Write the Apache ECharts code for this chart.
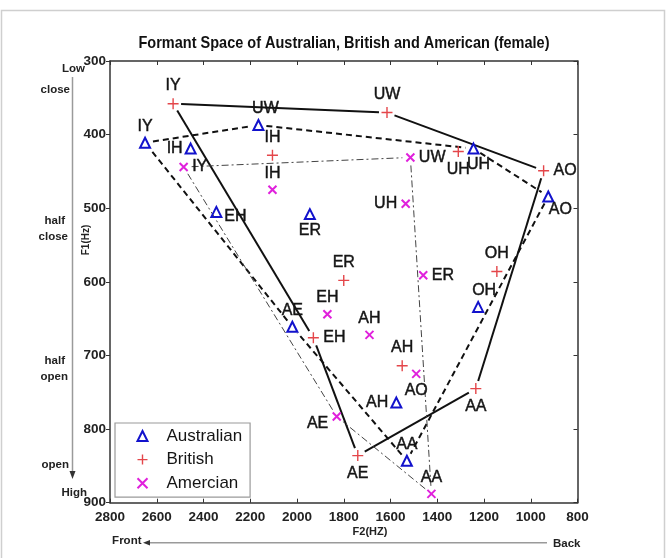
<!DOCTYPE html>
<html>
<head>
<meta charset="utf-8">
<script src="https://cdn.jsdelivr.net/npm/echarts@6/dist/echarts.min.js"></script>
<style>
  html, body { margin: 0; padding: 0; background: #fff; }
  #chart { width: 668px; height: 558px; }
</style>
</head>
<body>
<div id="chart"></div>
<script>
// Female vowel formants (Hz): F2 on the horizontal axis, F1 on the vertical axis
const ausVowels = ['IY', 'IH', 'EH', 'AE', 'ER', 'UW', 'UH', 'AO', 'OH', 'AH', 'AA'];
const ausF2 = [2650, 2455, 2345, 2020, 1945, 2165, 1245, 925, 1225, 1575, 1530];
const ausF1 = [411, 419, 505, 661, 508, 387, 419, 484, 634, 764, 843];

const briVowels = ['IY', 'IH', 'EH', 'AE', 'ER', 'UW', 'UH', 'AO', 'OH', 'AH', 'AA'];
const briF2 = [2530, 2105, 1930, 1740, 1800, 1615, 1310, 945, 1145, 1550, 1235];
const briF1 = [358, 428, 676, 836, 598, 370, 423, 449, 586, 714, 745];

const amVowels = ['IY', 'IH', 'EH', 'AE', 'ER', 'UW', 'UH', 'AO', 'AH', 'AA'];
const amF2 = [2485, 2105, 1870, 1830, 1460, 1515, 1535, 1490, 1690, 1425];
const amF1 = [444, 475, 644, 783, 591, 431, 494, 725, 672, 888];

// Vowel outlines, walked in order
const ausOutline = ['IY', 'UW', 'UH', 'AO', 'AA', 'AE', 'IY'];
const briOutline = ['IY', 'UW', 'AO', 'AA', 'AE', 'EH', 'IY'];
const amOutline = ['IY', 'UW', 'AA', 'AE', 'IY'];

// Axis ticks
const f2Ticks = [2800, 2600, 2400, 2200, 2000, 1800, 1600, 1400, 1200, 1000, 800];
const f1Ticks = [300, 400, 500, 600, 700, 800, 900];

// Where each vowel name sits around its marker
const ausLabelAt = { IY: 'top', IH: 'left', EH: 'right', AE: 'top', ER: 'bottom', UW: 'top', UH: 'bottom', AO: 'bottom', OH: 'top', AH: 'left', AA: 'top' };
const ausLabelShift = { UW: [7, 0], UH: [5, 0], AO: [12, -3], OH: [6, 0], EH: [0, 5] };
const briLabelAt = { IY: 'top', IH: 'top', EH: 'right', AE: 'bottom', ER: 'top', UW: 'top', UH: 'bottom', AO: 'right', OH: 'top', AH: 'top', AA: 'bottom' };
const briLabelShift = {};
const amLabelAt = { IY: 'right', IH: 'top', EH: 'top', AE: 'left', ER: 'right', UW: 'right', UH: 'left', AO: 'bottom', AH: 'top', AA: 'top' };
const amLabelShift = { AE: [0, 7] };

const SANS = '"Liberation Sans", Arial, Helvetica, sans-serif';

const BLUE = '#1212cc';
const RED = '#e4464a';
const MAGENTA = '#e020dc';

const TRI = 'triangle';
const PLUS = 'path://M0,5L10,5M5,0L5,10';
const CROSS = 'path://M0,0L10,10M10,0L0,10';

// Outline segments stop short of the markers they join
const SEGMENT_GAP = 8;

function points(names, f2, f1, at, shift) {
  return names.map((n, i) => ({
    name: n,
    value: [f2[i], f1[i]],
    label: { position: at[n] || 'top', offset: shift[n] || [0, 0] }
  }));
}

function outline(names, f2, f1, order) {
  return order.map(v => {
    const i = names.indexOf(v);
    return [f2[i], f1[i]];
  });
}

const vowelLabel = {
  show: true,
  formatter: p => p.name,
  fontFamily: SANS,
  fontSize: 16,
  color: '#151515',
  textBorderColor: '#151515',
  textBorderWidth: 0.45,
  distance: 2
};

const chart = echarts.init(document.getElementById('chart'), null, { renderer: 'canvas' });

const boxLine = { show: true, onZero: false, lineStyle: { color: '#333', width: 1.5 } };
const tickFont = { fontFamily: SANS, fontWeight: 'bold', fontSize: 13.5, color: '#222' };
const sideFont = 'bold 11.5px ' + SANS;

// Title is drawn slightly condensed
const TITLE = 'Formant Space of Australian, British and American (female)';
const TITLE_FONT = 'bold 16.5px ' + SANS;
const titleCtx = document.createElement('canvas').getContext('2d');
titleCtx.font = TITLE_FONT;
const titleScale = Math.min(1, 411 / titleCtx.measureText(TITLE).width);

chart.setOption({
  animation: false,
  backgroundColor: '#fff',
  grid: { left: 110, right: 90.5, top: 61, bottom: 55.3, containLabel: false },
  xAxis: [
    {
      type: 'value', inverse: true, min: f2Ticks[f2Ticks.length - 1], max: f2Ticks[0], interval: 200,
      axisLine: boxLine,
      axisTick: { show: true, inside: true, length: 4, lineStyle: { color: '#333', width: 1 } },
      axisLabel: Object.assign({ margin: 8, formatter: v => String(v) }, tickFont),
      splitLine: { show: false }
    },
    {
      type: 'value', position: 'top', inverse: true, min: f2Ticks[f2Ticks.length - 1], max: f2Ticks[0], interval: 200,
      axisLine: boxLine,
      axisTick: { show: true, inside: true, length: 4, lineStyle: { color: '#333', width: 1 } },
      axisLabel: { show: false },
      splitLine: { show: false }
    }
  ],
  yAxis: [
    {
      type: 'value', inverse: true, min: f1Ticks[0], max: f1Ticks[f1Ticks.length - 1], interval: 100,
      axisLine: boxLine,
      axisTick: { show: true, inside: false, length: 4, lineStyle: { color: '#333', width: 1 } },
      axisLabel: Object.assign({ margin: 4, formatter: v => String(v) }, tickFont),
      splitLine: { show: false }
    },
    {
      type: 'value', position: 'right', inverse: true, min: f1Ticks[0], max: f1Ticks[f1Ticks.length - 1], interval: 100,
      axisLine: boxLine,
      axisTick: { show: true, inside: true, length: 4, lineStyle: { color: '#333', width: 1 } },
      axisLabel: { show: false },
      splitLine: { show: false }
    }
  ],
  legend: {
    orient: 'vertical',
    left: 115,
    top: 423,
    padding: [3, 8, 4, 20],
    itemWidth: 10,
    itemHeight: 10,
    itemGap: 3.6,
    backgroundColor: '#fff',
    borderColor: '#9a9a9a',
    borderWidth: 1.2,
    textStyle: { fontFamily: SANS, fontSize: 17, lineHeight: 20, color: '#151515', padding: [0, 0, 0, 14] },
    data: [
      { name: 'Australian', icon: TRI, itemStyle: { color: 'rgba(0,0,0,0)', borderColor: BLUE, borderWidth: 2 } },
      { name: 'British', icon: PLUS, itemStyle: { color: 'none', borderColor: RED, borderWidth: 1.4 } },
      { name: 'Amercian', icon: CROSS, itemStyle: { color: 'none', borderColor: MAGENTA, borderWidth: 2 } }
    ]
  },
  series: [
    {
      id: 'ausOutline', name: 'Australian outline', type: 'lines', coordinateSystem: 'cartesian2d',
      xAxisIndex: 0, yAxisIndex: 0, silent: true, z: 2, data: [],
      lineStyle: { color: '#111', width: 2, type: [6, 4], opacity: 1 }
    },
    {
      id: 'briOutline', name: 'British outline', type: 'lines', coordinateSystem: 'cartesian2d',
      xAxisIndex: 0, yAxisIndex: 0, silent: true, z: 2, data: [],
      lineStyle: { color: '#111', width: 2, type: 'solid', opacity: 1 }
    },
    {
      id: 'amOutline', name: 'American outline', type: 'lines', coordinateSystem: 'cartesian2d',
      xAxisIndex: 0, yAxisIndex: 0, silent: true, z: 2, data: [],
      lineStyle: { color: '#444', width: 1, type: [7, 3, 2, 3], opacity: 1 }
    },
    {
      name: 'Australian', type: 'scatter', z: 3,
      symbol: TRI, symbolSize: 10,
      itemStyle: { color: 'rgba(0,0,0,0)', borderColor: BLUE, borderWidth: 2, opacity: 1 },
      label: vowelLabel,
      data: points(ausVowels, ausF2, ausF1, ausLabelAt, ausLabelShift)
    },
    {
      name: 'British', type: 'scatter', z: 3,
      symbol: PLUS, symbolSize: 11,
      itemStyle: { color: 'none', borderColor: RED, borderWidth: 1.4, opacity: 1 },
      label: vowelLabel,
      data: points(briVowels, briF2, briF1, briLabelAt, briLabelShift)
    },
    {
      name: 'Amercian', type: 'scatter', z: 3,
      symbol: CROSS, symbolSize: 8,
      itemStyle: { color: 'none', borderColor: MAGENTA, borderWidth: 2, opacity: 1 },
      label: vowelLabel,
      data: points(amVowels, amF2, amF1, amLabelAt, amLabelShift)
    }
  ],
  graphic: [
    // outer frame
    { type: 'rect', silent: true, shape: { x: 1.5, y: 10.5, width: 663, height: 560 },
      style: { fill: 'none', stroke: '#cfcfcf', lineWidth: 1.5 } },
    // title
    { type: 'text', silent: true, x: 344, y: 43, scaleX: titleScale,
      style: { x: 0, y: 0, text: TITLE, align: 'center', verticalAlign: 'middle', font: TITLE_FONT, fill: '#111' } },
    // vowel height guide on the left
    { type: 'line', silent: true, shape: { x1: 72.5, y1: 77, x2: 72.5, y2: 472 },
      style: { stroke: '#9a9a9a', lineWidth: 1.5 } },
    { type: 'polygon', silent: true, shape: { points: [[69.5, 471], [75.5, 471], [72.5, 479]] },
      style: { fill: '#333' } },
    { type: 'text', silent: true, style: { x: 85, y: 69, text: 'Low', align: 'right', verticalAlign: 'middle', font: sideFont, fill: '#222' } },
    { type: 'text', silent: true, style: { x: 70, y: 90, text: 'close', align: 'right', verticalAlign: 'middle', font: sideFont, fill: '#222' } },
    { type: 'text', silent: true, style: { x: 65, y: 221, text: 'half', align: 'right', verticalAlign: 'middle', font: sideFont, fill: '#222' } },
    { type: 'text', silent: true, style: { x: 68, y: 237, text: 'close', align: 'right', verticalAlign: 'middle', font: sideFont, fill: '#222' } },
    { type: 'text', silent: true, style: { x: 65, y: 361, text: 'half', align: 'right', verticalAlign: 'middle', font: sideFont, fill: '#222' } },
    { type: 'text', silent: true, style: { x: 68, y: 377, text: 'open', align: 'right', verticalAlign: 'middle', font: sideFont, fill: '#222' } },
    { type: 'text', silent: true, style: { x: 69, y: 465, text: 'open', align: 'right', verticalAlign: 'middle', font: sideFont, fill: '#222' } },
    { type: 'text', silent: true, style: { x: 87, y: 493, text: 'High', align: 'right', verticalAlign: 'middle', font: sideFont, fill: '#222' } },
    { type: 'text', silent: true, rotation: Math.PI / 2, x: 86, y: 240,
      style: { x: 0, y: 0, text: 'F1(Hz)', align: 'center', verticalAlign: 'middle', font: 'bold 10px ' + SANS, fill: '#222' } },
    // front/back guide along the bottom
    { type: 'line', silent: true, shape: { x1: 149, y1: 542.7, x2: 547, y2: 542.7 },
      style: { stroke: '#9a9a9a', lineWidth: 1.5 } },
    { type: 'polygon', silent: true, shape: { points: [[143, 542.7], [150, 540], [150, 545.4]] },
      style: { fill: '#333' } },
    { type: 'text', silent: true, style: { x: 141.5, y: 541, text: 'Front', align: 'right', verticalAlign: 'middle', font: sideFont, fill: '#222' } },
    { type: 'text', silent: true, style: { x: 553, y: 544, text: 'Back', align: 'left', verticalAlign: 'middle', font: sideFont, fill: '#222' } },
    { type: 'text', silent: true, style: { x: 370, y: 532, text: 'F2(HZ)', align: 'center', verticalAlign: 'middle', font: 'bold 11px ' + SANS, fill: '#222' } }
  ]
});

// Build outline segments through the axes, trimmed at both ends
const finder = { xAxisIndex: 0, yAxisIndex: 0 };
function segments(names, f2, f1, order) {
  const pts = outline(names, f2, f1, order);
  const segs = [];
  for (let i = 0; i < pts.length - 1; i++) {
    const a = chart.convertToPixel(finder, pts[i]);
    const b = chart.convertToPixel(finder, pts[i + 1]);
    const dx = b[0] - a[0], dy = b[1] - a[1];
    const len = Math.hypot(dx, dy);
    const ux = dx / len, uy = dy / len;
    segs.push({
      coords: [
        chart.convertFromPixel(finder, [a[0] + ux * SEGMENT_GAP, a[1] + uy * SEGMENT_GAP]),
        chart.convertFromPixel(finder, [b[0] - ux * SEGMENT_GAP, b[1] - uy * SEGMENT_GAP])
      ]
    });
  }
  return segs;
}

chart.setOption({
  series: [
    { id: 'ausOutline', data: segments(ausVowels, ausF2, ausF1, ausOutline) },
    { id: 'briOutline', data: segments(briVowels, briF2, briF1, briOutline) },
    { id: 'amOutline', data: segments(amVowels, amF2, amF1, amOutline) }
  ]
});
</script>
</body>
</html>
